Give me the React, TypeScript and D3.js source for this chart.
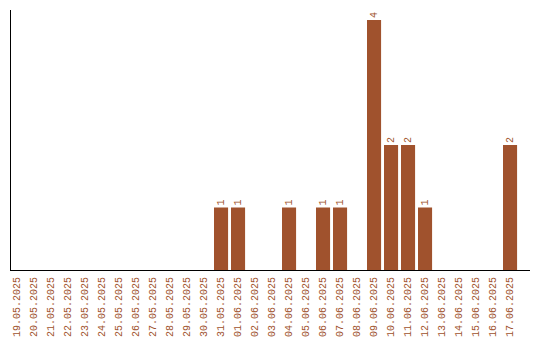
import React from "react";
import * as d3 from "d3";

const categories = [
  "19.05.2025", "20.05.2025", "21.05.2025", "22.05.2025", "23.05.2025",
  "24.05.2025", "25.05.2025", "26.05.2025", "27.05.2025", "28.05.2025",
  "29.05.2025", "30.05.2025", "31.05.2025", "01.06.2025", "02.06.2025",
  "03.06.2025", "04.06.2025", "05.06.2025", "06.06.2025", "07.06.2025",
  "08.06.2025", "09.06.2025", "10.06.2025", "11.06.2025", "12.06.2025",
  "13.06.2025", "14.06.2025", "15.06.2025", "16.06.2025", "17.06.2025",
];
const values = [
  0, 0, 0, 0, 0, 0, 0, 0, 0, 0,
  0, 0, 1, 1, 0, 0, 1, 0, 1, 1,
  0, 4, 2, 2, 1, 0, 0, 0, 0, 2,
];

const W = 540;
const H = 340;
const COLOR = "#a0522d";
const FONT = "'Liberation Mono', 'DejaVu Sans Mono', monospace";

export default function App() {
  const left = 10;
  const bottom = 270;
  const top = 10;
  const step = 17;
  const x = d3
    .scaleBand<string>()
    .domain(categories)
    .range([left, left + step * categories.length])
    .paddingInner(3 / 17)
    .paddingOuter(0)
    .align(0);
  const maxV = d3.max(values) ?? 1;
  const y = d3.scaleLinear().domain([0, maxV * 1.04]).range([bottom, top]);

  return (
    <svg
      width={W}
      height={H}
      style={{ position: "absolute", left: 0, top: 0, display: "block" }}
    >
      <rect x={0} y={0} width={W} height={H} fill="#fff" />
      {categories.map((c, i) => {
        const v = values[i];
        const bx = left + i * step;
        const bw = x.bandwidth();
        const cx = bx + bw / 2;
        return (
          <g key={c}>
            {v > 0 && (
              <>
                <rect x={bx} y={y(v)} width={bw} height={bottom - y(v)} fill={COLOR} />
                <text
                  transform={`translate(${cx},${y(v) - 2}) rotate(-90)`}
                  fontFamily={FONT}
                  fontSize={10}
                  fill={COLOR}
                  dominantBaseline="central"
                  textAnchor="start"
                >
                  {v}
                </text>
              </>
            )}
            <text
              transform={`translate(${cx},${bottom + 7}) rotate(-90)`}
              fontFamily={FONT}
              fontSize={10}
              fill={COLOR}
              dominantBaseline="central"
              textAnchor="end"
            >
              {c}
            </text>
          </g>
        );
      })}
      <line x1={10.5} x2={10.5} y1={top} y2={bottom} stroke="#000" strokeWidth={1} />
      <line x1={10} x2={530} y1={bottom + 0.5} y2={bottom + 0.5} stroke="#000" strokeWidth={1} />
    </svg>
  );
}
